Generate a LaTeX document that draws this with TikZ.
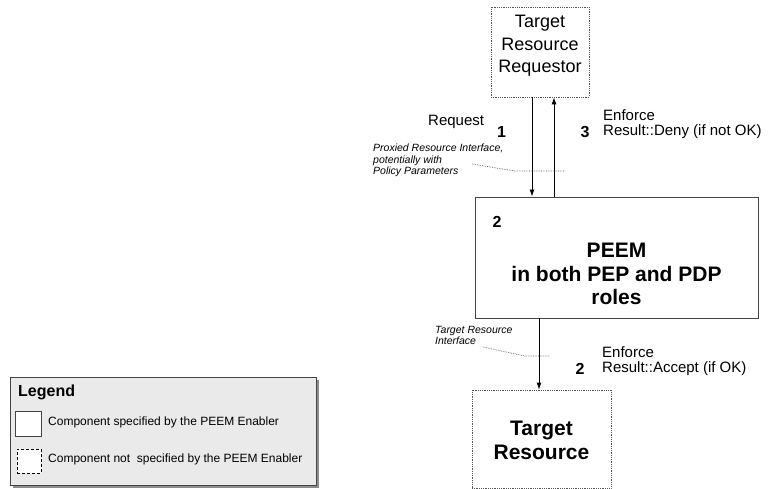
\documentclass[tikz,border=0pt]{standalone}
\usepackage{fontspec}
\setmainfont{Liberation Sans}
\usetikzlibrary{arrows.meta}

\definecolor{boxline}{HTML}{444444}
\definecolor{dotline}{HTML}{555555}
\definecolor{legendfill}{HTML}{EAEAEA}
\definecolor{shadowgray}{HTML}{8C8C8C}

\tikzset{
  x=1pt, y=-1pt,
  specbox/.style={draw=boxline, line width=0.9pt, fill=white, inner sep=0pt},
  extbox/.style={draw=dotline, line width=0.8pt, densely dotted, inner sep=0pt},
  arr/.style={line width=0.9pt, -{Latex[length=7pt,width=5pt]}},
  leader/.style={draw=dotline, line width=0.7pt, dotted, dash pattern=on 0.7pt off 1pt},
  lbl/.style={font=\fontsize{15}{17}\selectfont, inner sep=0pt},
  num/.style={font=\fontsize{16}{18}\selectfont\bfseries, inner sep=0pt},
  note/.style={font=\fontsize{10.5}{11.5}\selectfont\itshape, align=left, inner sep=0pt},
  legtext/.style={font=\fontsize{12}{14}\selectfont, inner sep=0pt, anchor=west},
}

\begin{document}
\begin{tikzpicture}
\useasboundingbox (0,0) rectangle (769,489);

% component boxes
\node[extbox, minimum width=98pt, minimum height=90pt] (req) at (540,52) {};
\node[align=center, font=\fontsize{18}{22.5}\selectfont] (reqtxt) at (540,46)
  {Target\\Resource\\Requestor};

\node[specbox, minimum width=283pt, minimum height=121pt] (peem) at (616.5,257.5) {};
\node[num] (peemnum) at (497,222) {2};
\node[align=center, font=\fontsize{21}{23.5}\selectfont\bfseries] (peemtxt) at (616.5,274)
  {PEEM\\in both PEP and PDP\\roles};

\node[extbox, minimum width=139pt, minimum height=98pt] (tr) at (541.5,439) {};
\node[align=center, font=\fontsize{21}{24}\selectfont\bfseries] (trtxt) at (541.5,440)
  {Target\\Resource};

% request / result flows
\draw[arr] ([xshift=-8pt]req.south) -- ([xshift=-8pt]req.south |- peem.north);
\draw[arr] ([xshift=14pt]req.south |- peem.north) -- ([xshift=14pt]req.south);
\draw[arr] ([xshift=-2.5pt]tr.north |- peem.south) -- ([xshift=-2.5pt]tr.north);

% flow labels
\node[lbl, anchor=west] (request) at (428,122) {Request};
\node[num] (n1) at (501.5,132) {1};
\node[num] (n3) at (585,132) {3};
\node[lbl, anchor=west] (enf1) at (603,115) {Enforce};
\node[lbl, anchor=west] (deny) at (603,132) {Result::Deny (if not OK)};

\node[num] (n2) at (580,369) {2};
\node[lbl, anchor=west] (enf2) at (602,352) {Enforce};
\node[lbl, anchor=west] (accept) at (602,369) {Result::Accept (if OK)};

% interface notes with dotted leaders
\node[note, anchor=north west] (pnote) at (373,144)
  {Proxied Resource Interface,\\potentially with\\Policy Parameters};
\coordinate (pl1) at (472,164);
\coordinate (pl2) at (515,171);
\coordinate (pl3) at (565,171);
\draw[leader] (pl1) -- (pl2) -- (pl3);

\node[note, anchor=north west] (tnote) at (435,326)
  {Target Resource\\Interface};
\coordinate (tl1) at (483,347);
\coordinate (tl2) at (525,356);
\coordinate (tl3) at (550,356);
\draw[leader] (tl1) -- (tl2) -- (tl3);

% legend
\fill[shadowgray] (13,380) rectangle (319,488);
\node[draw=boxline, line width=0.8pt, fill=legendfill, minimum width=306pt,
      minimum height=108pt, inner sep=0pt] (legend) at (163,431) {};
\node[font=\fontsize{16}{18}\selectfont\bfseries, anchor=west, inner sep=0pt]
  (legtitle) at (18,392) {Legend};
\node[specbox, minimum width=26pt, minimum height=25pt] (legsolid) at (28,423.5) {};
\node[legtext] (legt1) at (48,422) {Component specified by the PEEM Enabler};
\node[draw=black, line width=0.7pt, dashed, dash pattern=on 3pt off 2pt,
      fill=white, minimum width=24pt, minimum height=24pt, inner sep=0pt]
  (legdash) at (29,461) {};
\node[legtext] (legt2) at (48,459) {Component not\ \ specified by the PEEM Enabler};
\end{tikzpicture}
\end{document}
